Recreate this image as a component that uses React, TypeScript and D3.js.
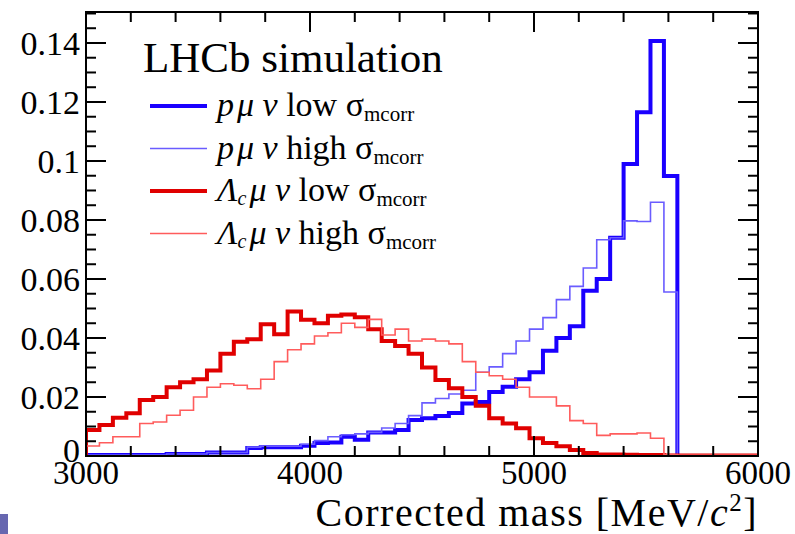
import { useEffect, useRef } from 'react'
import * as d3 from 'd3'

// 50 bins of 60 MeV from 3000 to 6000
const binEdges = d3.range(51).map(i => 3000 + 60 * i)

const pLow = [
  0.0003, 0.0003, 0.0003, 0.0003, 0.0003, 0.0003, 0.0007, 0.0007, 0.0007, 0.0012,
  0.0012, 0.0012, 0.0027, 0.003, 0.003, 0.003, 0.0035, 0.0044, 0.0046, 0.0065,
  0.0055, 0.008, 0.008, 0.0088, 0.0122, 0.0128, 0.0136, 0.0146, 0.0178, 0.0183,
  0.0217, 0.0235, 0.026, 0.0284, 0.0357, 0.040, 0.044, 0.056, 0.060, 0.074,
  0.099, 0.1165, 0.1407, 0.0949, 0, 0, 0, 0, 0, 0,
]
const pHigh = [
  0.0003, 0.0003, 0.0003, 0.0003, 0.0003, 0.0003, 0.0007, 0.0007, 0.0007, 0.0012,
  0.0012, 0.0012, 0.003, 0.0033, 0.0033, 0.0033, 0.004, 0.0052, 0.0065, 0.0072,
  0.0075, 0.008, 0.0095, 0.011, 0.0137, 0.018, 0.0195, 0.021, 0.0223, 0.0284,
  0.0302, 0.0347, 0.039, 0.043, 0.0469, 0.053, 0.0575, 0.0637, 0.0733, 0.074,
  0.0797, 0.0795, 0.086, 0.0556, 0, 0, 0, 0, 0, 0,
]
const lcLow = [
  0.0088, 0.0105, 0.013, 0.0145, 0.019, 0.020, 0.0233, 0.025, 0.026, 0.029,
  0.0347, 0.0387, 0.0396, 0.0447, 0.0413, 0.049, 0.0462, 0.045, 0.0475, 0.048,
  0.047, 0.043, 0.039, 0.0373, 0.0347, 0.030, 0.0258, 0.023, 0.020, 0.017,
  0.0128, 0.011, 0.0094, 0.006, 0.0044, 0.0033, 0.002, 0.001, 0.0005, 0.0005,
  0.0004, 0.0003, 0.0003, 0.0002, 0.0002, 0.0002, 0.0002, 0.0002, 0.0002, 0.0002,
]
const lcHigh = [
  0.0034, 0.0045, 0.0065, 0.0065, 0.011, 0.0115, 0.0138, 0.0155, 0.020, 0.0233,
  0.0245, 0.024, 0.0228, 0.026, 0.032, 0.036, 0.038, 0.0407, 0.0418, 0.045,
  0.0436, 0.0463, 0.041, 0.043, 0.039, 0.0396, 0.039, 0.038, 0.032, 0.0284,
  0.0272, 0.026, 0.0233, 0.020, 0.020, 0.017, 0.012, 0.011, 0.007, 0.0075,
  0.0075, 0.0078, 0.006, 0.0005, 0.0003, 0.0003, 0.0003, 0.0003, 0.0003, 0.0003,
]

const series = [
  { name: 'pLow', values: pLow, color: '#1a00ff', width: 4 },
  { name: 'pHigh', values: pHigh, color: '#6a5cff', width: 1.6 },
  { name: 'lcLow', values: lcLow, color: '#e00000', width: 4 },
  { name: 'lcHigh', values: lcHigh, color: '#ff5c5c', width: 1.6 },
]

const yTicks = [0, 0.02, 0.04, 0.06, 0.08, 0.1, 0.12, 0.14]
const xTicks = [3000, 4000, 5000, 6000]

const FONT = '"Liberation Serif", "DejaVu Serif", serif'

export default function App() {
  const svgRef = useRef<SVGSVGElement>(null)
  const width = 795
  const height = 534

  useEffect(() => {
    if (!svgRef.current) return
    const svg = d3.select(svgRef.current)
    svg.selectAll('*').remove()

    const left = 86, right = 758, top = 12, bottom = 456
    const x = d3.scaleLinear().domain([3000, 6000]).range([left, right])
    const y = d3.scaleLinear().domain([0, 0.1505]).range([bottom, top])

    svg.append('rect').attr('width', width).attr('height', height).attr('fill', 'white')

    const clip = svg.append('clipPath').attr('id', 'plotclip')
    clip.append('rect').attr('x', left).attr('y', top).attr('width', right - left).attr('height', bottom - top)

    const line = d3.line<[number, number]>()
      .x(d => x(d[0]))
      .y(d => y(d[1]))
      .curve(d3.curveStepAfter)

    const plot = svg.append('g').attr('clip-path', 'url(#plotclip)')
    series.forEach(s => {
      const pts: [number, number][] = []
      s.values.forEach((v, i) => pts.push([binEdges[i], v]))
      pts.push([6000, s.values[s.values.length - 1]])
      // rise from the baseline at the first edge
      const path = 'M' + x(3000) + ',' + y(0) + (line(pts) as string).replace(/^M/, 'L')
      plot.append('path')
        .attr('d', path)
        .attr('fill', 'none')
        .attr('stroke', s.color)
        .attr('stroke-width', s.width)
    })

    // frame and ticks
    const axes = svg.append('g').attr('stroke', 'black')
    axes.append('rect')
      .attr('x', left).attr('y', top).attr('width', right - left).attr('height', bottom - top)
      .attr('fill', 'none').attr('stroke-width', 2)

    d3.range(3000, 6001, 200).forEach(v => {
      const len = v % 1000 === 0 ? 20 : 10
      axes.append('line').attr('x1', x(v)).attr('x2', x(v)).attr('y1', bottom).attr('y2', bottom - len).attr('stroke-width', 2)
      axes.append('line').attr('x1', x(v)).attr('x2', x(v)).attr('y1', top).attr('y2', top + len).attr('stroke-width', 2)
    })
    d3.range(0, 0.1501, 0.005).forEach((v, i) => {
      const len = i % 4 === 0 ? 20 : 10
      axes.append('line').attr('x1', left).attr('x2', left + len).attr('y1', y(v)).attr('y2', y(v)).attr('stroke-width', 2)
      axes.append('line').attr('x1', right).attr('x2', right - len).attr('y1', y(v)).attr('y2', y(v)).attr('stroke-width', 2)
    })

    const txt = (size: number) =>
      svg.append('text').attr('font-family', FONT).attr('font-size', size).attr('fill', 'black')

    yTicks.forEach(v => {
      txt(34).attr('x', left - 6).attr('y', y(v) + (v === 0 ? 6 : 12))
        .attr('text-anchor', 'end').text(String(v))
    })
    xTicks.forEach(v => {
      txt(33).attr('x', x(v)).attr('y', 484)
        .attr('text-anchor', 'middle').text(String(v))
    })
    const xt = txt(40).attr('x', right).attr('y', 526).attr('text-anchor', 'end').attr('letter-spacing', 1.5)
    xt.append('tspan').text('Corrected mass [MeV/')
    xt.append('tspan').attr('font-style', 'italic').text('c')
    xt.append('tspan').attr('font-size', 25).attr('dy', -15).text('2')
    xt.append('tspan').attr('dy', 15).text(']')

    txt(43).attr('x', 143).attr('y', 72).text('LHCb simulation')

    const legend = [
      { s: series[0], pre: 'p', level: 'low' },
      { s: series[1], pre: 'p', level: 'high' },
      { s: series[2], pre: 'Λ', level: 'low' },
      { s: series[3], pre: 'Λ', level: 'high' },
    ]
    legend.forEach((l, i) => {
      const ly = 106 + i * 42.5
      svg.append('line').attr('x1', 150).attr('x2', 207).attr('y1', ly).attr('y2', ly)
        .attr('stroke', l.s.color).attr('stroke-width', l.s.width)
      const t = txt(34).attr('x', 217).attr('y', ly + 10)
      t.append('tspan').attr('font-style', 'italic').text(l.pre)
      if (l.pre === 'Λ') t.append('tspan').attr('font-style', 'italic').attr('font-size', 20).attr('dy', 4).text('c')
      t.append('tspan').attr('font-style', 'italic').attr('dy', l.pre === 'Λ' ? -4 : 0).attr('dx', 3).text('μ ν')
      t.append('tspan').text(' ' + l.level + ' σ')
      t.append('tspan').attr('font-size', 21).attr('dy', 5).text('mcorr')
    })

    svg.append('rect').attr('x', 0).attr('y', 514).attr('width', 8).attr('height', 20).attr('fill', '#6767b0')
  }, [])

  return <svg ref={svgRef} width={width} height={height} style={{ position: 'absolute', left: 0, top: 0 }} />
}
